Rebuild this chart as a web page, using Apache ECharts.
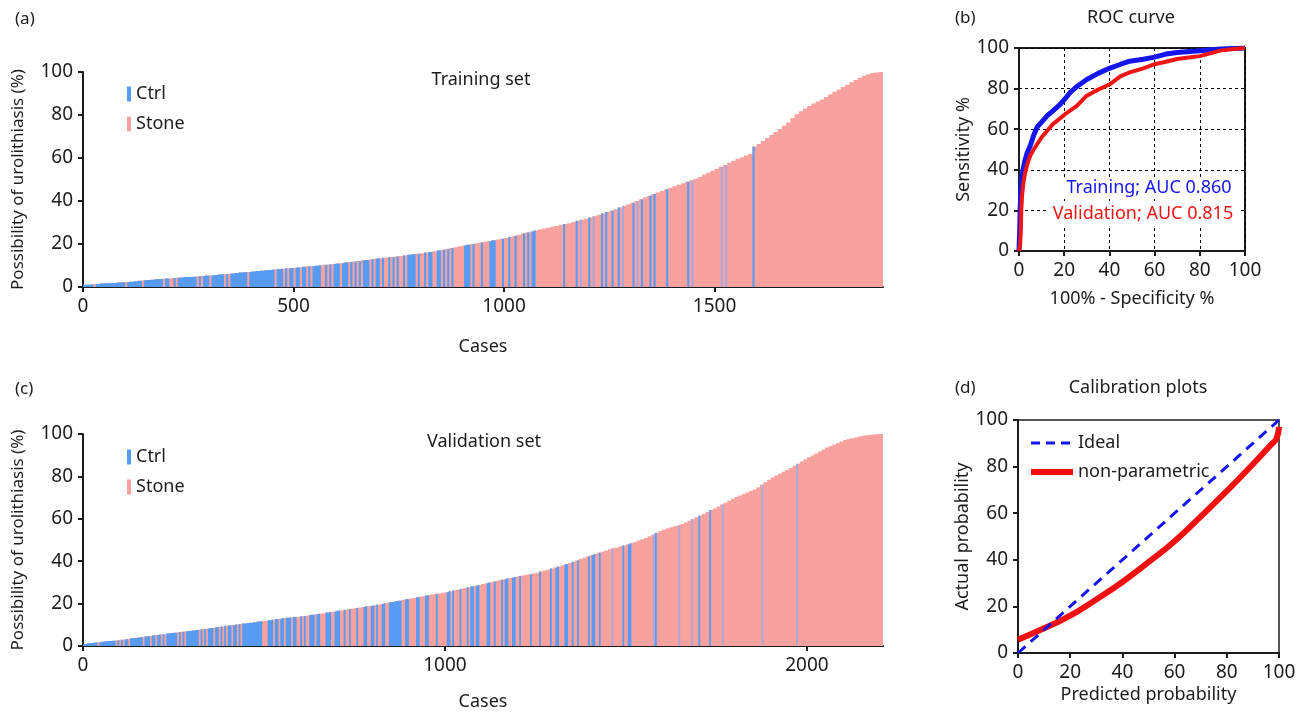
<!DOCTYPE html>
<html>
<head>
<meta charset="utf-8">
<title>Urolithiasis prediction</title>
<script src="https://cdn.jsdelivr.net/npm/echarts@6.0.0/dist/echarts.min.js"></script>
<style>
  html, body { margin: 0; padding: 0; background: #fff; }
  #main { width: 1312px; height: 712px; }
</style>
</head>
<body>
<div id="main"></div>
<script>
// predicted probability (%), one value per 10 sorted cases
var trainHeights = [
  1.0, 1.1, 1.3, 1.4, 1.6, 1.7, 1.8, 1.9, 2.1, 2.2,
  2.3, 2.5, 2.7, 2.9, 3.1, 3.2, 3.4, 3.6, 3.7, 3.9,
  4.0, 4.2, 4.3, 4.4, 4.6, 4.7, 4.8, 5.0, 5.1, 5.3,
  5.4, 5.6, 5.8, 5.9, 6.1, 6.3, 6.5, 6.7, 6.9, 7.0,
  7.2, 7.4, 7.6, 7.8, 7.9, 8.1, 8.3, 8.5, 8.7, 8.8,
  9.0, 9.2, 9.4, 9.6, 9.7, 9.9, 10.1, 10.3, 10.5, 10.7,
  10.9, 11.1, 11.4, 11.6, 11.9, 12.1, 12.4, 12.6, 12.9, 13.1,
  13.4, 13.6, 13.8, 14.0, 14.2, 14.4, 14.7, 15.0, 15.2, 15.5,
  15.7, 16.0, 16.3, 16.6, 17.0, 17.3, 17.7, 18.1, 18.5, 18.9,
  19.3, 19.6, 20.0, 20.3, 20.7, 21.0, 21.4, 21.7, 22.1, 22.4,
  22.8, 23.3, 23.8, 24.3, 24.9, 25.4, 25.8, 26.3, 26.7, 27.2,
  27.6, 28.0, 28.4, 28.9, 29.3, 29.7, 30.2, 30.8, 31.3, 31.8,
  32.3, 32.9, 33.6, 34.2, 34.9, 35.5, 36.2, 37.0, 37.7, 38.5,
  39.2, 40.0, 40.8, 41.7, 42.5, 43.3, 44.0, 44.7, 45.5, 46.2,
  46.9, 47.6, 48.2, 48.9, 49.6, 50.3, 51.2, 52.2, 53.1, 54.1,
  55.0, 55.9, 56.8, 57.8, 58.7, 59.6, 60.4, 61.2, 62.0, 65.3,
  66.5, 67.9, 69.3, 70.7, 72.1, 73.5, 75.0, 76.5, 78.6, 80.4,
  81.8, 83.0, 84.2, 85.3, 86.3, 87.2, 88.4, 89.6, 90.8, 91.9,
  93.0, 94.1, 95.2, 96.3, 97.3, 98.2, 99.0, 99.5, 99.8, 100
];
// class of every 5 cases: c = Ctrl, f = Ctrl (thin stripe), s = Stone
var trainClass = [
  'cccccscccc', 'cccccccccc', 'scccccccsc', 'ccccccccsc', 'csscsccccc',
  'ccccscsccc', 'sccccccscs', 'ccccccccsc', 'cccccccccc', 'cscccscscc',
  'sccsccscsc', 'cccsscscsc', 'ccscccscsc', 'scscccscsc', 'cscsscscsc',
  'sscsccccsc', 'sscsccsscc', 'scscscssss', 'scccscsssc', 'ssscccsssc',
  'sscsscsssc', 'scsccsssss', 'sssssssscs', 'sssscsfsss', 'csfssscscs',
  'scsscsfsss', 'scsfscsssc', 'scssssscss', 'ssssssscsf', 'ssssssssss',
  'sssfsfssss', 'sssssssscs', 'ssssssssss', 'ssssssssss', 'ssssssssss',
  'ssssssssss', 'ssssssssss', 'ssssssssss'
].join('');

var validHeights = [
  1.0, 1.2, 1.4, 1.6, 1.8, 2.0, 2.2, 2.4, 2.5, 2.7,
  2.9, 3.1, 3.3, 3.6, 3.8, 4.0, 4.2, 4.5, 4.7, 5.0,
  5.2, 5.4, 5.6, 5.9, 6.1, 6.3, 6.5, 6.7, 6.9, 7.1,
  7.3, 7.5, 7.8, 8.0, 8.3, 8.5, 8.7, 9.0, 9.2, 9.5,
  9.7, 9.9, 10.1, 10.4, 10.6, 10.8, 11.0, 11.2, 11.5, 11.7,
  11.9, 12.2, 12.4, 12.7, 12.9, 13.2, 13.3, 13.5, 13.7, 13.8,
  14.0, 14.2, 14.5, 14.7, 15.0, 15.2, 15.5, 15.8, 16.0, 16.3,
  16.6, 16.9, 17.1, 17.4, 17.6, 17.9, 18.2, 18.4, 18.7, 18.9,
  19.2, 19.5, 19.8, 20.2, 20.5, 20.8, 21.1, 21.4, 21.8, 22.1,
  22.4, 22.7, 23.0, 23.4, 23.7, 24.0, 24.3, 24.6, 24.8, 25.1,
  25.4, 25.8, 26.2, 26.5, 26.9, 27.3, 27.7, 28.1, 28.4, 28.8,
  29.2, 29.6, 30.0, 30.4, 30.8, 31.2, 31.5, 31.9, 32.2, 32.6,
  32.9, 33.2, 33.6, 33.9, 34.3, 34.6, 35.1, 35.6, 36.0, 36.5,
  37.0, 37.5, 38.1, 38.6, 39.2, 39.7, 40.3, 41.0, 41.6, 42.3,
  42.9, 43.4, 44.0, 44.5, 45.1, 45.6, 46.1, 46.5, 47.0, 47.4,
  47.9, 48.5, 49.1, 49.8, 50.4, 51.0, 51.8, 52.6, 53.4, 54.2,
  55.0, 55.5, 56.0, 56.5, 57.0, 57.5, 58.3, 59.1, 59.9, 60.7,
  61.5, 62.4, 63.2, 64.1, 64.9, 65.8, 66.7, 67.6, 68.5, 69.4,
  70.3, 71.0, 71.7, 72.4, 73.1, 73.8, 74.9, 76.1, 77.2, 78.4,
  79.5, 80.4, 81.3, 82.2, 83.1, 84.0, 85.0, 86.0, 87.0, 88.0,
  89.0, 89.9, 90.8, 91.8, 92.7, 93.6, 94.3, 95.0, 95.8, 96.5,
  97.2, 97.6, 98.0, 98.4, 98.8, 99.2, 99.4, 99.6, 99.8, 99.9,
  100
];
var validClass = [
  'ccccccccsc', 'ccccccccsc', 'scsccscccc', 'cccscccscc', 'sccscscccc',
  'ccscscsccc', 'ccccscscsc', 'ccsccscscs', 'ccsccscscc', 'cccccccccs',
  'sscccsccsc', 'cscccsccss', 'cscsscccsc', 'cssscccssc', 'ccsscsscss',
  'scsssccssc', 'cscssccssc', 'ccccccsscc', 'ssssccsssc', 'csssscssss',
  'sccscssscs', 'sscsccsccs', 'sssccsscss', 'scsccssccs', 'scssssscss',
  'sscssssscs', 'sccsssccss', 'csscsssssc', 'sccsscssss', 'ssfssssscs',
  'sccsssssss', 'sssssfcsss', 'sssssssssf', 'ssssssfsss', 'cssssscsss',
  'sssfssssss', 'ssssssssss', 'sssssfssss', 'ssssssssss', 'ssssfsssss',
  'ssssssssss', 'ssssssssss', 'ssssssssss', 'ssssssssss', 'ss'
].join('');

var trainTicks = [0, 500, 1000, 1500];
var validTicks = [0, 1000, 2000];

// ROC curves: [100% - specificity, sensitivity]
var rocTrain = [
  [0, 0], [0.3, 10], [0.5, 20], [0.8, 30], [1.2, 36], [1.8, 40], [2.5, 44],
  [3.5, 48], [5, 52], [6.5, 57], [8, 61], [10, 63.5], [12.3, 66.5], [15, 69],
  [18, 72], [20.4, 75], [23, 78.5], [25.6, 81], [30, 84.5], [35, 87.5],
  [40, 90], [45, 92], [49, 93.5], [55, 94.5], [60, 95.5], [65, 97],
  [70, 97.8], [80, 98.7], [89, 99.5], [95, 99.8], [100, 100]
];
var rocValid = [
  [0, 0], [0.5, 3], [0.8, 10], [1.0, 20], [1.4, 28], [2, 34], [2.7, 38.6],
  [4, 44], [5, 47], [6.5, 50], [8, 52.6], [10, 56], [12.3, 59], [15, 62.5],
  [20.4, 67.4], [25.6, 71.5], [30, 76.5], [35, 79.5], [40, 82], [44.8, 86],
  [49, 88], [55, 90], [60, 92], [65, 93.2], [70, 94.6], [75, 95.3], [80, 96],
  [85, 97.5], [89, 98.7], [95, 99.5], [100, 100]
];

// calibration: [predicted, actual]
var calIdeal = [[0, 0], [100, 100]];
var calNonPar = [
  [0, 5.7], [10, 10.6], [20, 16], [30, 23], [40, 30.5], [50, 39], [60, 48],
  [70, 58.5], [80, 69.5], [90, 81], [97, 89.5], [99, 92], [100, 97]
];

var CTRL = '#579cf2';
var STONE = '#f9a19f';
var FAINT = '#a9a7dc';
var INK = '#1c1c1c';
var FONT = "'Noto Sans', sans-serif";

// runs of consecutive 5-case blocks of one class -> [fromCase, toCase]
function runs(classes, keep) {
  var out = [];
  var j = 0;
  while (j < classes.length) {
    var c = classes[j];
    if (keep.indexOf(c) < 0) { j++; continue; }
    var k = j;
    while (k < classes.length && classes[k] === c) k++;
    var item = { value: [j * 5, k * 5] };
    if (c === 'f') item.itemStyle = { color: FAINT };
    out.push(item);
    j = k;
  }
  return out;
}

// step-shaped area under the sorted probabilities between two case numbers
function stepArea(heights) {
  return function (params, api) {
    var a = Math.round(api.value(0) / 5);
    var b = Math.round(api.value(1) / 5);
    var pts = [api.coord([a * 5, 0])];
    for (var j = a; j < b; j++) {
      var h = heights[j >> 1];
      pts.push(api.coord([j * 5, h]), api.coord([j * 5 + 5, h]));
    }
    pts.push(api.coord([b * 5, 0]));
    return { type: 'polygon', shape: { points: pts }, style: api.style() };
  };
}

function axis(gridIndex, min, max, opts) {
  var a = {
    type: 'value', gridIndex: gridIndex, min: min, max: max,
    axisLine: { show: true, onZero: false, lineStyle: { color: INK, width: 2 } },
    axisTick: { show: true, length: 5, lineStyle: { color: INK, width: 2 } },
    axisLabel: { fontSize: 19, color: INK, fontFamily: FONT, margin: 10, formatter: function (v) { return String(v); } },
    splitLine: { show: false },
    nameLocation: 'middle',
    nameTextStyle: { fontSize: 18, color: INK, fontFamily: FONT }
  };
  for (var k in opts) {
    if (typeof opts[k] === 'object' && !Array.isArray(opts[k]) && a[k]) {
      for (var kk in opts[k]) a[k][kk] = opts[k][kk];
    } else {
      a[k] = opts[k];
    }
  }
  return a;
}

var chart = echarts.init(document.getElementById('main'));

var dashGrid = { show: true, lineStyle: { color: '#000', width: 1, type: [3, 3] } };
var longName = { fontSize: 17, color: INK, fontFamily: FONT };

var option = {
  animation: false,
  textStyle: { fontFamily: FONT },
  grid: [
    { left: 83, top: 72, width: 800, height: 215 },
    { left: 83, top: 434, width: 800, height: 215 },
    { left: 1019, top: 48, width: 226, height: 203, show: true, borderColor: INK, borderWidth: 2 },
    { left: 1018, top: 420, width: 261, height: 233, show: true, borderColor: INK, borderWidth: 1.5 }
  ],
  xAxis: [
    axis(0, 0, 1900, {
      name: 'Cases', nameGap: 51,
      axisTick: { customValues: trainTicks },
      axisLabel: { customValues: trainTicks }
    }),
    axis(1, 0, 2210, {
      name: 'Cases', nameGap: 47,
      axisTick: { customValues: validTicks },
      axisLabel: { customValues: validTicks }
    }),
    axis(2, 0, 100, { interval: 20, name: '100% - Specificity %', nameGap: 39, splitLine: dashGrid }),
    axis(3, 0, 100, { interval: 20, name: 'Predicted probability', nameGap: 33 })
  ],
  yAxis: [
    axis(0, 0, 100, { interval: 20, name: 'Possibility of urolithiasis (%)', nameGap: 56, nameTextStyle: longName }),
    axis(1, 0, 100, { interval: 20, name: 'Possibility of urolithiasis (%)', nameGap: 56, nameTextStyle: longName }),
    axis(2, 0, 100, { interval: 20, name: 'Sensitivity %', nameGap: 45, splitLine: dashGrid }),
    axis(3, 0, 100, { interval: 20, name: 'Actual probability', nameGap: 44 })
  ],
  legend: [
    {
      left: 127, top: 85, orient: 'vertical', icon: 'rect', itemWidth: 4, itemHeight: 15,
      itemGap: 12, padding: 0, selectedMode: false, data: ['Ctrl', 'Stone'],
      textStyle: { fontSize: 18, color: INK, fontFamily: FONT }
    },
    {
      left: 127, top: 448, orient: 'vertical', icon: 'rect', itemWidth: 4, itemHeight: 15,
      itemGap: 12, padding: 0, selectedMode: false, data: ['Ctrl', 'Stone'],
      textStyle: { fontSize: 18, color: INK, fontFamily: FONT }
    },
    {
      left: 1028, top: 434, orient: 'vertical', itemWidth: 42, itemHeight: 14,
      itemGap: 11, padding: 0, selectedMode: false,
      data: [
        { name: 'Ideal', lineStyle: { width: 3, type: [9, 6] } },
        { name: 'non-parametric', lineStyle: { width: 6 } }
      ],
      itemStyle: { opacity: 0 },
      textStyle: { fontSize: 18, color: INK, fontFamily: FONT }
    }
  ],
  series: [
    {
      name: 'Stone', type: 'custom', xAxisIndex: 0, yAxisIndex: 0, renderItem: stepArea(trainHeights),
      encode: { x: [0, 1] }, itemStyle: { color: STONE },
      data: [{ value: [0, trainClass.length * 5] }]
    },
    {
      name: 'Ctrl', type: 'custom', xAxisIndex: 0, yAxisIndex: 0, renderItem: stepArea(trainHeights),
      encode: { x: [0, 1] }, itemStyle: { color: CTRL },
      data: runs(trainClass, 'cf')
    },
    {
      name: 'Stone', type: 'custom', xAxisIndex: 1, yAxisIndex: 1, renderItem: stepArea(validHeights),
      encode: { x: [0, 1] }, itemStyle: { color: STONE },
      data: [{ value: [0, validClass.length * 5] }]
    },
    {
      name: 'Ctrl', type: 'custom', xAxisIndex: 1, yAxisIndex: 1, renderItem: stepArea(validHeights),
      encode: { x: [0, 1] }, itemStyle: { color: CTRL },
      data: runs(validClass, 'cf')
    },
    {
      name: 'Training', type: 'line', xAxisIndex: 2, yAxisIndex: 2, symbol: 'none',
      lineStyle: { color: '#1515ee', width: 5 }, data: rocTrain
    },
    {
      name: 'Validation', type: 'line', xAxisIndex: 2, yAxisIndex: 2, symbol: 'none',
      lineStyle: { color: '#ee1515', width: 4 }, data: rocValid
    },
    {
      name: 'non-parametric', type: 'line', xAxisIndex: 3, yAxisIndex: 3, symbol: 'none',
      smooth: true, color: '#f01010', lineStyle: { color: '#f01010', width: 6 }, data: calNonPar
    },
    {
      name: 'Ideal', type: 'line', xAxisIndex: 3, yAxisIndex: 3, symbol: 'none', z: 3,
      color: '#1515ee', lineStyle: { color: '#1515ee', width: 3, type: [10, 7] }, data: calIdeal
    }
  ],
  graphic: [
    { type: 'text', x: 15, y: 19, style: { text: '(a)', font: '17px ' + FONT, fill: INK, textVerticalAlign: 'middle' } },
    { type: 'text', x: 15, y: 389, style: { text: '(c)', font: '17px ' + FONT, fill: INK, textVerticalAlign: 'middle' } },
    { type: 'text', x: 955, y: 18, style: { text: '(b)', font: '17px ' + FONT, fill: INK, textVerticalAlign: 'middle' } },
    { type: 'text', x: 955, y: 388, style: { text: '(d)', font: '17px ' + FONT, fill: INK, textVerticalAlign: 'middle' } },
    { type: 'text', x: 481, y: 80, style: { text: 'Training set', font: '18px ' + FONT, fill: INK, textAlign: 'center', textVerticalAlign: 'middle' } },
    { type: 'text', x: 484, y: 442, style: { text: 'Validation set', font: '18px ' + FONT, fill: INK, textAlign: 'center', textVerticalAlign: 'middle' } },
    { type: 'text', x: 1131, y: 18, style: { text: 'ROC curve', font: '18px ' + FONT, fill: INK, textAlign: 'center', textVerticalAlign: 'middle' } },
    { type: 'text', x: 1138, y: 388, style: { text: 'Calibration plots', font: '18px ' + FONT, fill: INK, textAlign: 'center', textVerticalAlign: 'middle' } },
    { type: 'rect', shape: { x: 1062, y: 177, width: 175, height: 22 }, style: { fill: '#fff' }, z: 50 },
    { type: 'rect', shape: { x: 1047, y: 203, width: 194, height: 23 }, style: { fill: '#fff' }, z: 50 },
    { type: 'text', x: 1149, y: 188, z: 51, style: { text: 'Training; AUC 0.860', font: '18px ' + FONT, fill: '#1515ee', textAlign: 'center', textVerticalAlign: 'middle' } },
    { type: 'text', x: 1143, y: 214, z: 51, style: { text: 'Validation; AUC 0.815', font: '18px ' + FONT, fill: '#ee1515', textAlign: 'center', textVerticalAlign: 'middle' } }
  ]
};

chart.setOption(option);
</script>
</body>
</html>
